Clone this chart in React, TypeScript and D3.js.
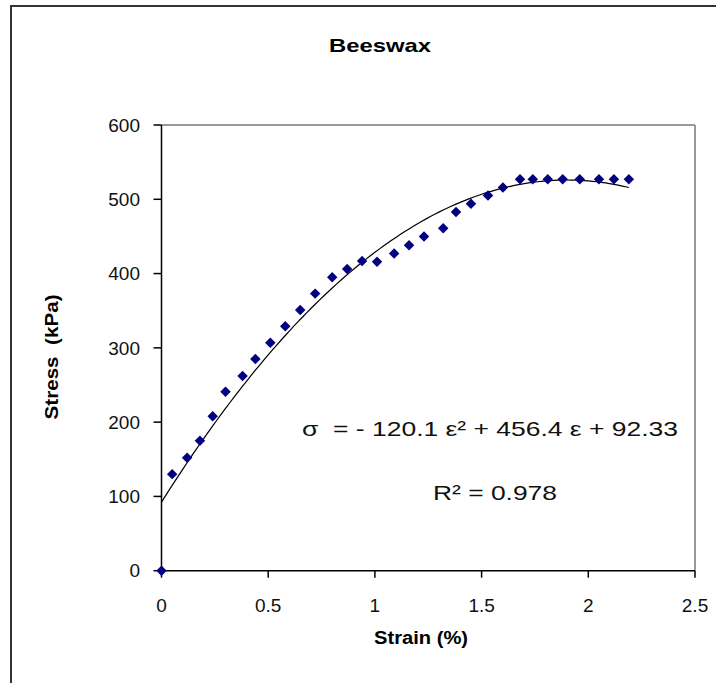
import React from "react";
import * as d3 from "d3";

const strain = [0, 0.05, 0.12, 0.18, 0.24, 0.3, 0.38, 0.44, 0.51, 0.58, 0.65, 0.72, 0.8, 0.87, 0.94, 1.01, 1.09, 1.16, 1.23, 1.32, 1.38, 1.45, 1.53, 1.6, 1.68, 1.74, 1.81, 1.88, 1.96, 2.05, 2.12, 2.19];
const stress = [0, 130, 152, 175, 208, 241, 262, 285, 307, 329, 351, 373, 395, 406, 417, 416, 427, 438, 450, 461, 483, 494, 505, 516, 527, 527, 527, 527, 527, 527, 527, 527];
const xTicks = [0, 0.5, 1, 1.5, 2, 2.5];
const yTicks = [0, 100, 200, 300, 400, 500, 600];
const fitA = -120.1;
const fitB = 456.4;
const fitC = 92.33;

const W = 716;
const H = 683;
const L = 161.5;
const R = 695;
const T = 125;
const B = 570.7;

export default function App() {
  const x = d3.scaleLinear().domain([0, 2.5]).range([L, R]);
  const y = d3.scaleLinear().domain([0, 600]).range([B, T]);
  const maxX = d3.max(strain) as number;
  const fitPts = d3.range(0, maxX + 1e-9, 0.02).concat([maxX]).map((e) => [e, fitA * e * e + fitB * e + fitC] as [number, number]);
  const line = d3.line<[number, number]>().x((d) => x(d[0])).y((d) => y(d[1]));
  const font = "'Liberation Sans', Arial, sans-serif";
  const diamond = d3.symbol().type(d3.symbolDiamond2).size(70)();
  return (
    <svg width={W} height={H} style={{ position: "absolute", left: 0, top: 0, background: "#fff" }} fontFamily={font}>
      <rect x={0} y={0} width={W} height={H} fill="#fff" />
      <rect x={11} y={6} width={W + 50} height={H + 50} fill="none" stroke="#333" strokeWidth={2} />
      <text x={380} y={52} textAnchor="middle" fontWeight="bold" fontSize={19} textLength={102} lengthAdjust="spacingAndGlyphs">Beeswax</text>
      {/* plot frame */}
      <line x1={L} x2={R} y1={T} y2={T} stroke="#999" strokeWidth={2} />
      <line x1={R} x2={R} y1={T} y2={B} stroke="#999" strokeWidth={2} />
      {/* axes */}
      <line x1={L} x2={L} y1={T} y2={B} stroke="#000" strokeWidth={1.5} />
      <line x1={L} x2={R} y1={B} y2={B} stroke="#000" strokeWidth={1.5} />
      {yTicks.map((t) => (
        <g key={"y" + t}>
          <line x1={L - 8} x2={L} y1={y(t)} y2={y(t)} stroke="#000" strokeWidth={1.5} />
          <text x={140} y={y(t)} dy="0.35em" textAnchor="end" fontSize={19} fill="#111">{t}</text>
        </g>
      ))}
      {xTicks.map((t) => (
        <g key={"x" + t}>
          <line x1={x(t)} x2={x(t)} y1={B} y2={B + 7} stroke="#000" strokeWidth={1.5} />
          <text x={x(t)} y={605} dy="0.35em" textAnchor="middle" fontSize={19} fill="#111">{t}</text>
        </g>
      ))}
      <text x={421} y={644} textAnchor="middle" fontWeight="bold" fontSize={18} textLength={94} lengthAdjust="spacingAndGlyphs">Strain (%)</text>
      <text transform="translate(58,357) rotate(-90)" textAnchor="middle" fontWeight="bold" fontSize={18} textLength={125} lengthAdjust="spacingAndGlyphs" style={{ whiteSpace: "pre" }}>Stress  (kPa)</text>
      <path d={line(fitPts) || ""} fill="none" stroke="#000" strokeWidth={1.2} />
      {strain.map((s, i) => (
        <path key={"p" + i} d={diamond || ""} transform={`translate(${x(s)},${y(stress[i])})`} fill="#000080" />
      ))}
      <text x={302} y={436} fontSize={21} textLength={376} lengthAdjust="spacingAndGlyphs" style={{ whiteSpace: "pre" }} fill="#111">σ  = - 120.1 ε² + 456.4 ε + 92.33</text>
      <text x={433} y={500} fontSize={21} textLength={124} lengthAdjust="spacingAndGlyphs" fill="#111">R² = 0.978</text>
    </svg>
  );
}
